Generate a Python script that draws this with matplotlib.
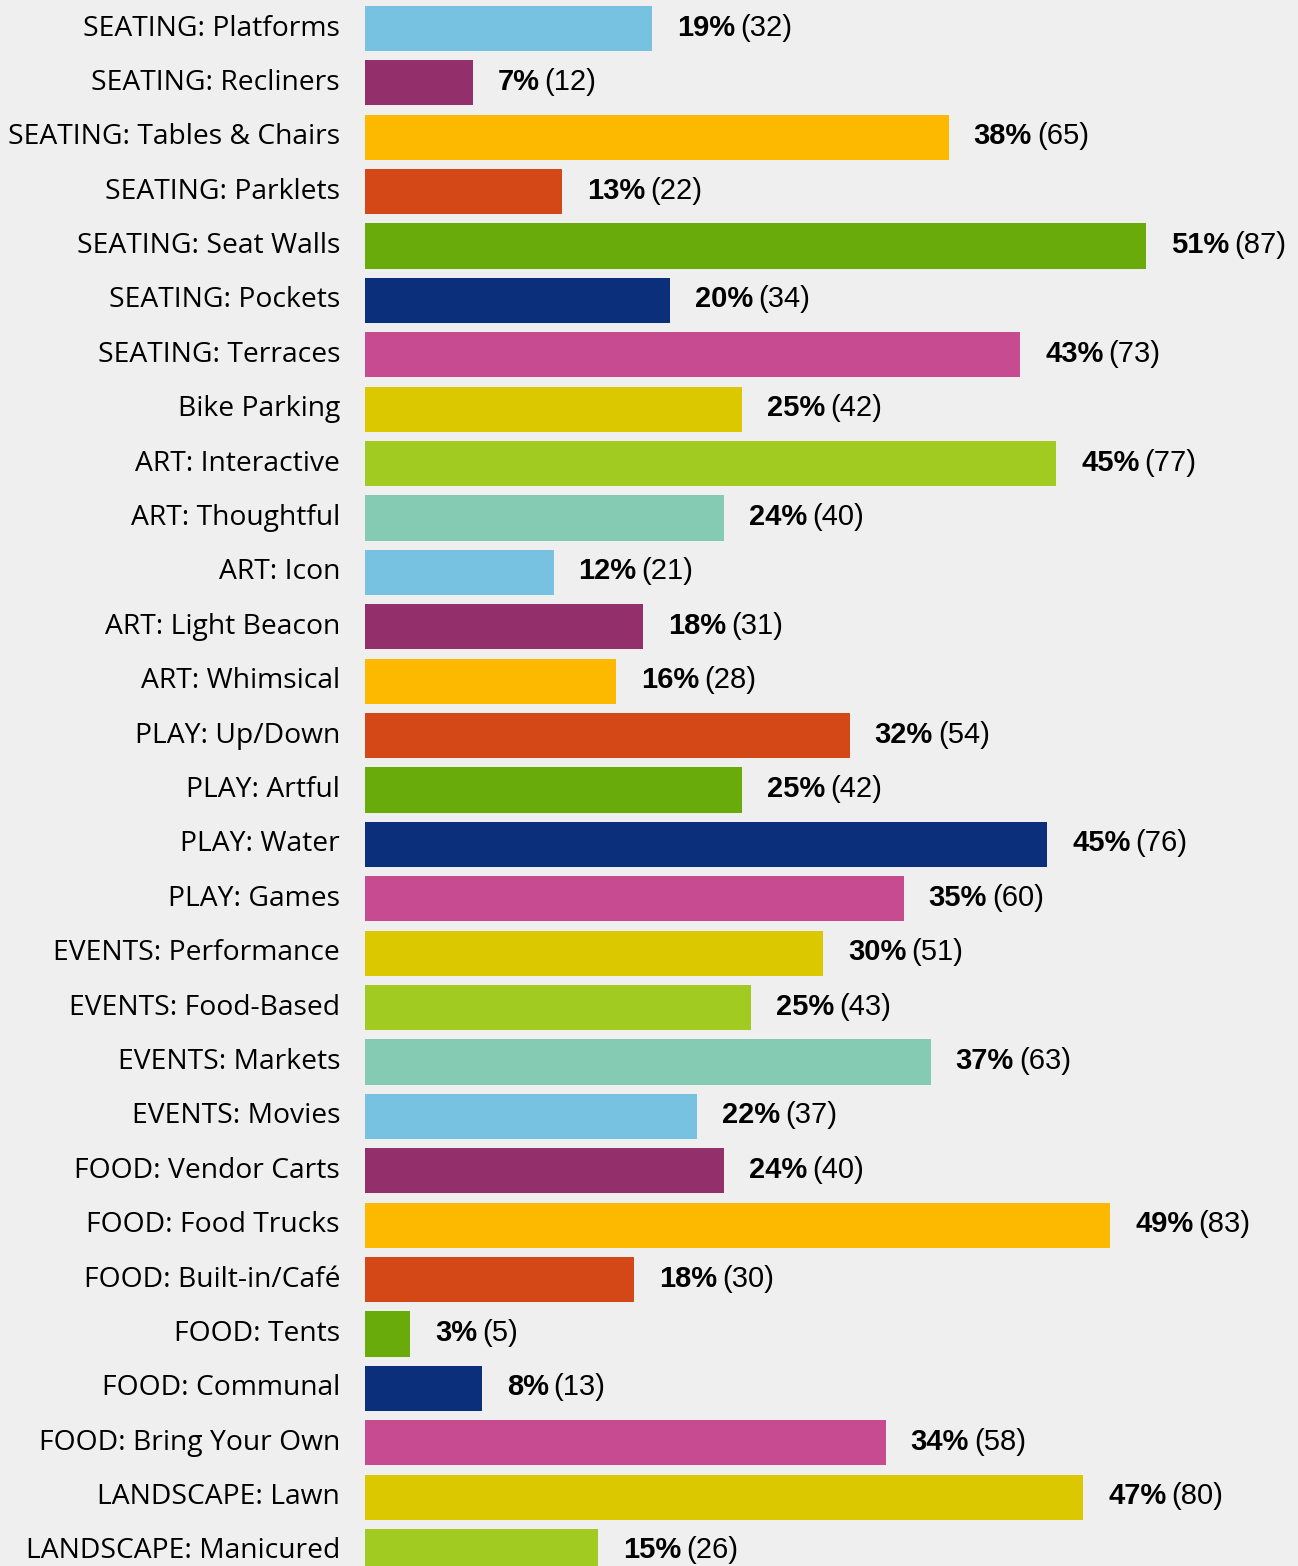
import matplotlib.pyplot as plt

# Survey results: category labels, response counts and percentages
labels = [
    "SEATING: Platforms", "SEATING: Recliners", "SEATING: Tables & Chairs",
    "SEATING: Parklets", "SEATING: Seat Walls", "SEATING: Pockets",
    "SEATING: Terraces", "Bike Parking", "ART: Interactive", "ART: Thoughtful",
    "ART: Icon", "ART: Light Beacon", "ART: Whimsical", "PLAY: Up/Down",
    "PLAY: Artful", "PLAY: Water", "PLAY: Games", "EVENTS: Performance",
    "EVENTS: Food-Based", "EVENTS: Markets", "EVENTS: Movies",
    "FOOD: Vendor Carts", "FOOD: Food Trucks", "FOOD: Built-in/Café",
    "FOOD: Tents", "FOOD: Communal", "FOOD: Bring Your Own",
    "LANDSCAPE: Lawn", "LANDSCAPE: Manicured",
]
counts = [32, 12, 65, 22, 87, 34, 73, 42, 77, 40, 21, 31, 28, 54, 42, 76, 60,
          51, 43, 63, 37, 40, 83, 30, 5, 13, 58, 80, 26]
percents = [19, 7, 38, 13, 51, 20, 43, 25, 45, 24, 12, 18, 16, 32, 25, 45, 35,
            30, 25, 37, 22, 24, 49, 18, 3, 8, 34, 47, 15]

palette = ["#77c1e1", "#93306b", "#fdb900", "#d34816", "#69ab0b",
           "#0b2f7a", "#c74b91", "#dcc800", "#a2cb22", "#85cbb3"]
colors = [palette[i % len(palette)] for i in range(len(labels))]

bg = "#efefef"
fig = plt.figure(figsize=(12.98, 15.66), dpi=100, facecolor=bg)
ax = fig.add_axes([365 / 1298, 0, 933 / 1298, 1])
ax.set_facecolor(bg)

y = list(range(len(labels)))
ax.barh(y, counts, height=0.83, color=colors)

ax.set_xlim(0, 933 / 8.977)
ax.set_ylim(28 + 14.5 / 54.39, -28.5 / 54.39)
ax.axis("off")

for i, (lab, c, p) in enumerate(zip(labels, counts, percents)):
    ax.annotate(lab, xy=(0, i), xytext=(-25, 0), textcoords="offset pixels",
                ha="right", va="center", fontsize=20.3, family="Open Sans",
                color="black", annotation_clip=False)
    t = ax.annotate(f"{p}%", xy=(c, i), xytext=(25, 1), textcoords="offset pixels",
                    ha="left", va="center", fontsize=21, fontweight="bold",
                    family="Liberation Sans", color="black")
    ax.annotate(f"({c})", xy=(1, 0.5), xycoords=t, xytext=(5, 0),
                textcoords="offset pixels", ha="left", va="center",
                fontsize=21, family="Liberation Sans", color="black")

fig.savefig("out.png", dpi=100, facecolor=bg)
